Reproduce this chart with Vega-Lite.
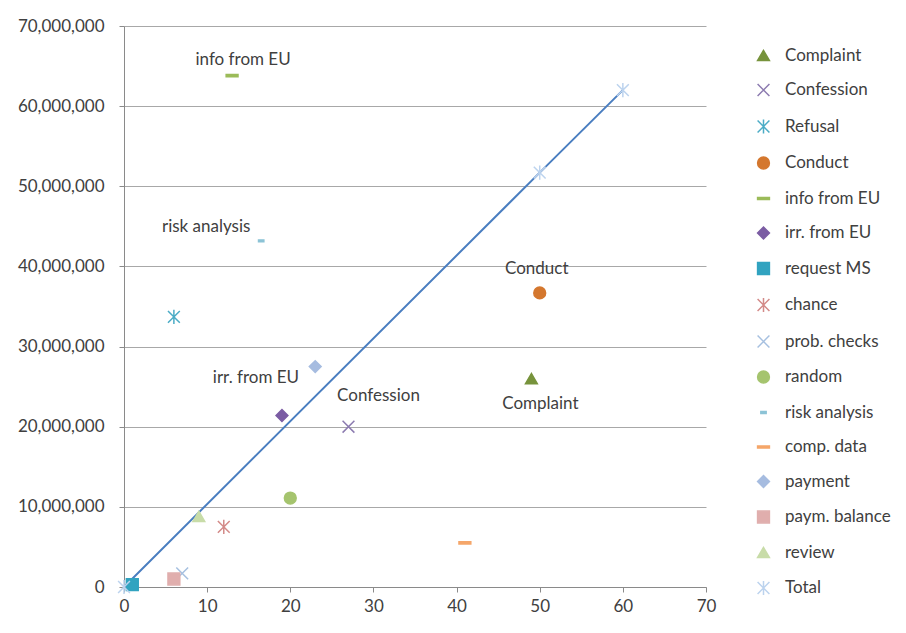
{
  "$schema": "https://vega.github.io/schema/vega-lite/v6.json",
  "width": 582,
  "height": 561,
  "autosize": {"type": "none"},
  "padding": {"left": 124, "top": 26, "right": 200, "bottom": 46},
  "background": "white",
  "data": {
    "values": [
      {"series": "Complaint", "x": 49, "y": 26000000},
      {"series": "Confession", "x": 27, "y": 20000000},
      {"series": "Refusal", "x": 6, "y": 33700000},
      {"series": "Conduct", "x": 50, "y": 36700000},
      {"series": "info from EU", "x": 13, "y": 63800000},
      {"series": "irr. from EU", "x": 19, "y": 21400000},
      {"series": "request MS", "x": 1, "y": 300000},
      {"series": "chance", "x": 12, "y": 7500000},
      {"series": "prob. checks", "x": 7, "y": 1700000},
      {"series": "random", "x": 20, "y": 11100000},
      {"series": "risk analysis", "x": 16.5, "y": 43200000},
      {"series": "comp. data", "x": 41, "y": 5500000},
      {"series": "payment", "x": 23, "y": 27500000},
      {"series": "paym. balance", "x": 6, "y": 1000000},
      {"series": "review", "x": 9, "y": 8800000},
      {"series": "Total", "x": 0, "y": 0},
      {"series": "Total", "x": 50, "y": 51700000},
      {"series": "Total", "x": 60, "y": 62000000}
    ]
  },
  "encoding": {
    "x": {"field": "x", "type": "quantitative", "scale": {"domain": [0, 70], "nice": false},
      "axis": {"values": [0, 10, 20, 30, 40, 50, 60, 70], "title": null, "grid": false, "labelFlush": false}},
    "y": {"field": "y", "type": "quantitative", "scale": {"domain": [0, 70000000], "nice": false},
      "axis": {"values": [0, 10000000, 20000000, 30000000, 40000000, 50000000, 60000000, 70000000], "format": ",d", "title": null, "grid": true, "labelFlush": false}}
  },
  "layer": [
    {
      "transform": [{"filter": "datum.series === 'Total'"}],
      "mark": {"type": "line", "color": "#4A7EC0", "strokeWidth": 2},
      "encoding": {}
    },
    {
      "mark": {"type": "point", "filled": true, "size": 140, "strokeWidth": 1.5, "opacity": 1},
      "encoding": {
        "color": {"field": "series", "type": "nominal", "title": null,
          "scale": {
            "domain": ["Complaint", "Confession", "Refusal", "Conduct", "info from EU", "irr. from EU", "request MS", "chance", "prob. checks", "random", "risk analysis", "comp. data", "payment", "paym. balance", "review", "Total"],
            "range": ["#77933C", "#8C7BB0", "#4BACC6", "#D4772E", "#9BBB59", "#7B5CA3", "#31A3C0", "#D38A88", "#A6C0E0", "#A5C46E", "#8CC3D6", "#F5A66A", "#A6BCE0", "#E0AEAD", "#C8DCA8", "#BCD3EE"]
          }},
        "stroke": {"field": "series", "type": "nominal", "title": null,
          "scale": {
            "domain": ["Complaint", "Confession", "Refusal", "Conduct", "info from EU", "irr. from EU", "request MS", "chance", "prob. checks", "random", "risk analysis", "comp. data", "payment", "paym. balance", "review", "Total"],
            "range": ["#77933C", "#8C7BB0", "#4BACC6", "#D4772E", "#9BBB59", "#7B5CA3", "#31A3C0", "#D38A88", "#A6C0E0", "#A5C46E", "#8CC3D6", "#F5A66A", "#A6BCE0", "#E0AEAD", "#C8DCA8", "#BCD3EE"]
          }},
        "shape": {"field": "series", "type": "nominal", "title": null,
          "scale": {
            "domain": ["Complaint", "Confession", "Refusal", "Conduct", "info from EU", "irr. from EU", "request MS", "chance", "prob. checks", "random", "risk analysis", "comp. data", "payment", "paym. balance", "review", "Total"],
            "range": ["triangle-up", "M-1,-1L1,1M-1,1L1,-1", "M-1,-1L1,1M-1,1L1,-1M0,-1.2L0,1.2", "circle", "M-1,-0.18L1,-0.18L1,0.18L-1,0.18Z", "diamond", "square", "M-1,-1L1,1M-1,1L1,-1M0,-1.2L0,1.2", "M-1,-1L1,1M-1,1L1,-1", "circle", "M-0.45,-0.15L0.45,-0.15L0.45,0.15L-0.45,0.15Z", "M-1,-0.18L1,-0.18L1,0.18L-1,0.18Z", "diamond", "square", "triangle-up", "M-1,-1L1,1M-1,1L1,-1M0,-1.2L0,1.2"]
          }}
      }
    },
    {
      "transform": [{"filter": "datum.series === 'Complaint'"}],
      "mark": {"type": "text", "dx": 9, "dy": 25},
      "encoding": {"text": {"field": "series"}}
    },
    {
      "transform": [{"filter": "datum.series === 'Confession'"}],
      "mark": {"type": "text", "dx": 30, "dy": -31},
      "encoding": {"text": {"field": "series"}}
    },
    {
      "transform": [{"filter": "datum.series === 'Conduct'"}],
      "mark": {"type": "text", "dx": -3, "dy": -24},
      "encoding": {"text": {"field": "series"}}
    },
    {
      "transform": [{"filter": "datum.series === 'info from EU'"}],
      "mark": {"type": "text", "dx": 11, "dy": -16},
      "encoding": {"text": {"field": "series"}}
    },
    {
      "transform": [{"filter": "datum.series === 'irr. from EU'"}],
      "mark": {"type": "text", "dx": -26, "dy": -37},
      "encoding": {"text": {"field": "series"}}
    },
    {
      "transform": [{"filter": "datum.series === 'risk analysis'"}],
      "mark": {"type": "text", "dx": -55, "dy": -14},
      "encoding": {"text": {"field": "series"}}
    }
  ],
  "config": {
    "view": {"stroke": null},
    "font": "Lato",
    "text": {"font": "Lato", "fontSize": 17, "color": "#404040", "align": "center", "baseline": "middle"},
    "axis": {
      "labelFont": "Lato", "labelFontSize": 17, "labelColor": "#404040",
      "domainColor": "#8A8A8A", "tickColor": "#8A8A8A", "tickSize": 5,
      "gridColor": "#A8A8A8", "gridWidth": 1, "domainWidth": 1, "tickWidth": 1
    },
    "axisX": {"labelPadding": 6},
    "axisY": {"labelPadding": 15},
    "legend": {
      "orient": "none", "legendX": 631, "legendY": 21, "padding": 0,
      "labelFont": "Lato", "labelFontSize": 17, "labelColor": "#404040",
      "symbolSize": 140, "symbolStrokeWidth": 1.5, "rowPadding": 16.5, "labelOffset": 13,
      "labelLimit": 200, "symbolType": "circle"
    }
  }
}
